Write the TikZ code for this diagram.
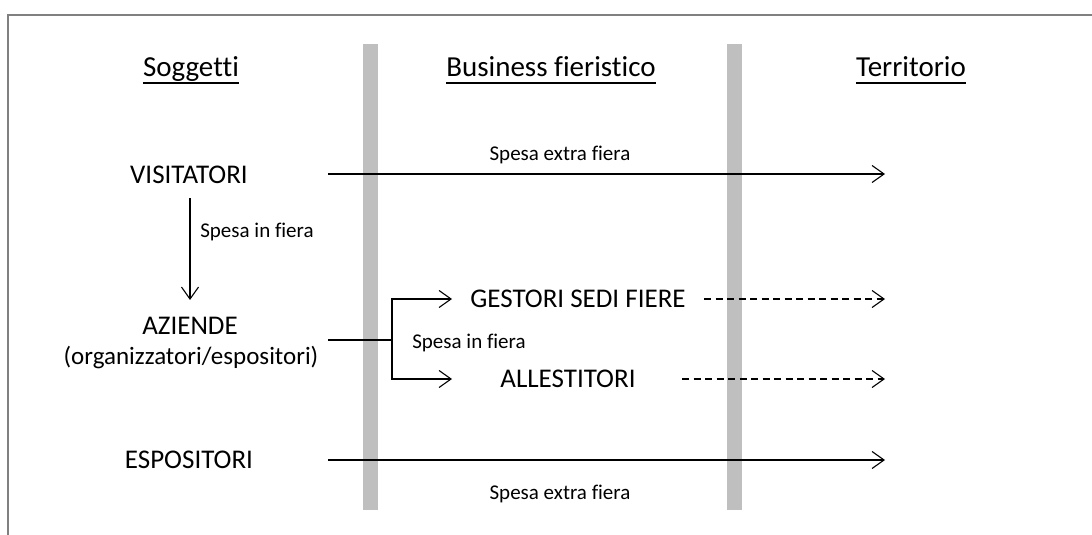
\documentclass[tikz,border=0pt]{standalone}
\usepackage{fontspec}
\setmainfont{Carlito}[Ligatures=NoCommon]
\usetikzlibrary{arrows.meta}
\tikzset{
  flow/.style={-{Straight Barb[length=12pt,width=17pt]}, line width=1.1pt},
  dflow/.style={flow, dash pattern=on 7pt off 4.5pt},
  lab/.style={font=\fontsize{27}{32}\selectfont, inner sep=0pt},
  small/.style={font=\fontsize{21}{25}\selectfont, inner sep=0pt},
  head/.style={font=\fontsize{29}{34}\selectfont, inner sep=0pt, anchor=base},
  uline/.style={line width=2pt},
  bar/.style={fill=black!25, draw=none},
}
\begin{document}
\begin{tikzpicture}[x=1pt, y=-1pt]
      \useasboundingbox (0,0) rectangle (1092,535);
      \draw[black!50, line width=1.2pt] (8,535) -- (8,15) -- (1092,15);
      %
      \fill[bar] (363,44) rectangle (378,510);
      \fill[bar] (727,44) rectangle (742,510);
      %
      \node[head] (hsog) at (191,77) {Soggetti};
      \node[head] (hbus) at (551,77) {Business fieristico};
      \node[head] (hter) at (911,77) {Territorio};
      \draw[uline] ([yshift=-6pt]hsog.base west) -- ([yshift=-6pt]hsog.base east);
      \draw[uline] ([yshift=-6pt]hbus.base west) -- ([yshift=-6pt]hbus.base east);
      \draw[uline] ([yshift=-6pt]hter.base west) -- ([yshift=-6pt]hter.base east);
      %
      \node[lab] (visit) at (189,175) {VISITATORI};
      \node[lab] (azi) at (190,326) {AZIENDE};
      \node[lab, font=\fontsize{25}{30}\selectfont] (org) at (191,358) {(organizzatori/espositori)};
      \node[lab] (espo) at (189,460) {ESPOSITORI};
      \node[lab] (gest) at (578,299) {GESTORI SEDI FIERE};
      \node[lab] (alle) at (568,379) {ALLESTITORI};
      %
      \coordinate (vs) at (328,174);
      \coordinate (ve) at (885,174);
      \coordinate (ds) at (190,198);
      \coordinate (de) at (190,300);
      \coordinate (azs) at (328,340);
      \coordinate (fork) at (392,340);
      \coordinate (gin) at (452,299);
      \coordinate (ain) at (452,379);
      \coordinate (gs) at (704,299);
      \coordinate (ge) at (885,299);
      \coordinate (as) at (682,379);
      \coordinate (ae) at (885,379);
      \coordinate (es) at (328,460);
      \coordinate (ee) at (885,460);
      %
      \draw[flow] (vs) -- (ve);
      \draw[flow] (ds) -- (de);
      \draw[line width=1.1pt] (azs) -- (fork);
      \draw[flow] (fork) |- (gin);
      \draw[flow] (fork) |- (ain);
      \draw[dflow] (gs) -- (ge);
      \draw[dflow] (as) -- (ae);
      \draw[flow] (es) -- (ee);
      %
      \node[small] (l1) at (560,155) {Spesa extra fiera};
      \node[small] (l2) at (257,232) {Spesa in fiera};
      \node[small] (l3) at (469,343) {Spesa in fiera};
      \node[small] (l4) at (560,494) {Spesa extra fiera};
      %
\end{tikzpicture}
\end{document}
